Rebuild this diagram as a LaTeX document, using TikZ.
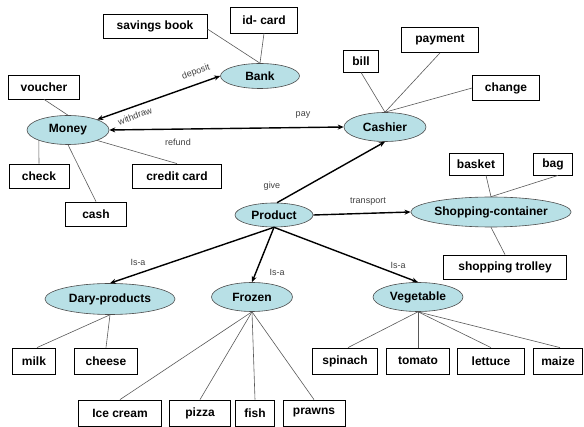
\documentclass[tikz,border=0pt]{standalone}
\usepackage{fontspec}
\setmainfont{Liberation Sans}
\usetikzlibrary{shapes.geometric,arrows.meta}
\definecolor{ellfill}{HTML}{B8E0E6}
\begin{document}
\begin{tikzpicture}[x=1pt,y=-1pt,
  box/.style={draw=black,line width=0.8pt,fill=white,inner xsep=7pt,inner ysep=0pt,minimum height=24pt,font=\fontsize{12}{14}\selectfont\bfseries},
  ell/.style={ellipse,draw=black!70,line width=0.6pt,fill=ellfill,inner sep=0pt,font=\fontsize{12}{14}\selectfont\bfseries},
  link/.style={draw=black!65,line width=0.6pt},
  rel/.style={draw=black,line width=1.4pt,-{Stealth[length=6pt,width=5pt]}},
  birel/.style={draw=black,line width=1.4pt,{Stealth[length=6pt,width=5pt]}-{Stealth[length=6pt,width=5pt]}},
  lab/.style={font=\fontsize{9}{10}\selectfont,text=black!75,inner sep=1pt}]
\useasboundingbox (0,0) rectangle (584,427);
% ellipses
\node[ell,minimum width=79pt,minimum height=25pt] (Bank) at (260,76) {Bank};
\node[ell,minimum width=82pt,minimum height=29pt] (Money) at (68,130) {Money};
\node[ell,minimum width=82pt,minimum height=29pt] (Cashier) at (385,127) {Cashier};
\node[ell,minimum width=78pt,minimum height=24pt] (Product) at (274,215) {Product};
\node[ell,minimum width=151pt,minimum height=30pt] (Shop) at (491,212) {Shopping-container};
\node[ell,minimum width=130pt,minimum height=31pt] (Dary) at (110,299) {Dary-products};
\node[ell,minimum width=81pt,minimum height=29pt] (Frozen) at (252,297) {Frozen};
\node[ell,minimum width=90pt,minimum height=29pt] (Veg) at (418,297) {Vegetable};
% boxes
\node[box,minimum width=104pt] (savings) at (155,26) {savings book};
\node[box,minimum width=67pt,minimum height=26pt] (idcard) at (264,20) {id- card};
\node[box,minimum width=71pt] (voucher) at (44,87) {voucher};
\node[box,minimum width=60pt] (check) at (39,176) {check};
\node[box,minimum width=89pt] (credit) at (177,176) {credit card};
\node[box,minimum width=61pt] (cash) at (96,214) {cash};
\node[box,minimum width=35pt,minimum height=22pt] (bill) at (361,61) {bill};
\node[box,minimum width=77pt,minimum height=25pt] (payment) at (440,40) {payment};
\node[box,minimum width=67pt,minimum height=25pt] (change) at (506,88) {change};
\node[box,minimum width=54pt,minimum height=22pt] (basket) at (476,164) {basket};
\node[box,minimum width=39pt,minimum height=22pt] (bag) at (553,164) {bag};
\node[box,minimum width=123pt] (trolley) at (505,267) {shopping trolley};
\node[box,minimum width=43pt,minimum height=26pt] (milk) at (34,361) {milk};
\node[box,minimum width=63pt,minimum height=26pt] (cheese) at (106,361) {cheese};
\node[box,minimum width=65pt,minimum height=26pt] (spinach) at (345,361) {spinach};
\node[box,minimum width=63pt,minimum height=26pt] (tomato) at (418,361) {tomato};
\node[box,minimum width=67pt,minimum height=26pt] (lettuce) at (491,361) {lettuce};
\node[box,minimum width=49pt,minimum height=26pt] (maize) at (558,361) {maize};
\node[box,minimum width=83pt,minimum height=26pt] (icecream) at (120,413) {Ice cream};
\node[box,minimum width=61pt,minimum height=26pt] (pizza) at (200,413) {pizza};
\node[box,minimum width=39pt,minimum height=26pt] (fish) at (255,413) {fish};
\node[box,minimum width=62pt,minimum height=26pt] (prawns) at (314,413) {prawns};
% plain links
\draw[link] (savings.east) ++(0,3) -- (Bank.north);
\draw[link] (idcard.south) -- (Bank.north);
\draw[link] (voucher.south) -- (Money.north);
\draw[link] (Money.south west) -- (check.north);
\draw[link] (Money.south) -- (cash.north);
\draw[link] (Money.south east) -- (credit.north);
\draw[link] (Cashier.north) -- (bill.south);
\draw[link] (Cashier.north) -- (payment.south);
\draw[link] (Cashier.north) -- (change.west);
\draw[link] (Shop.north) -- ([xshift=10pt]basket.south);
\draw[link] (Shop.north) -- ([xshift=5pt]bag.south);
\draw[link] (Shop.south) -- (trolley.north);
\draw[link] (Dary.south) -- ([xshift=3pt]milk.north);
\draw[link] (Dary.south) -- (cheese.north);
\draw[link] (Frozen.south) -- (icecream.north);
\draw[link] (Frozen.south) -- (pizza.north);
\draw[link] (Frozen.south) -- (fish.north);
\draw[link] (Frozen.south) -- (prawns.north);
\draw[link] (Veg.south) -- ([xshift=3pt]spinach.north);
\draw[link] (Veg.south) -- (tomato.north);
\draw[link] (Veg.south) -- (lettuce.north);
\draw[link] (Veg.south) -- ([xshift=2pt]maize.north);
% relations
\draw[birel] (Money.north east) -- (Bank.west);
\draw[birel] (Money.east) -- (Cashier.west);
\draw[rel] ([xshift=3pt]Product.north) -- (Cashier.south);
\draw[rel] (Product.east) -- (Shop.west);
\draw[rel] (Product.south) -- (Dary.north);
\draw[rel] (Product.south) -- (Frozen.north);
\draw[rel] (Product.south) -- (Veg.north);
% labels
\node[lab,rotate=20] (ldeposit) at (196,72) {deposit};
\node[lab,rotate=20] (lwithdraw) at (135,116) {withdraw};
\node[lab] (lpay) at (303,115) {pay};
\node[lab] (lrefund) at (178,142) {refund};
\node[lab] (lgive) at (272,186) {give};
\node[lab] (ltransport) at (368,202) {transport};
\node[lab] (lisa1) at (138,262) {Is-a};
\node[lab] (lisa2) at (277,272) {Is-a};
\node[lab] (lisa3) at (398,265) {Is-a};
\end{tikzpicture}
\end{document}
